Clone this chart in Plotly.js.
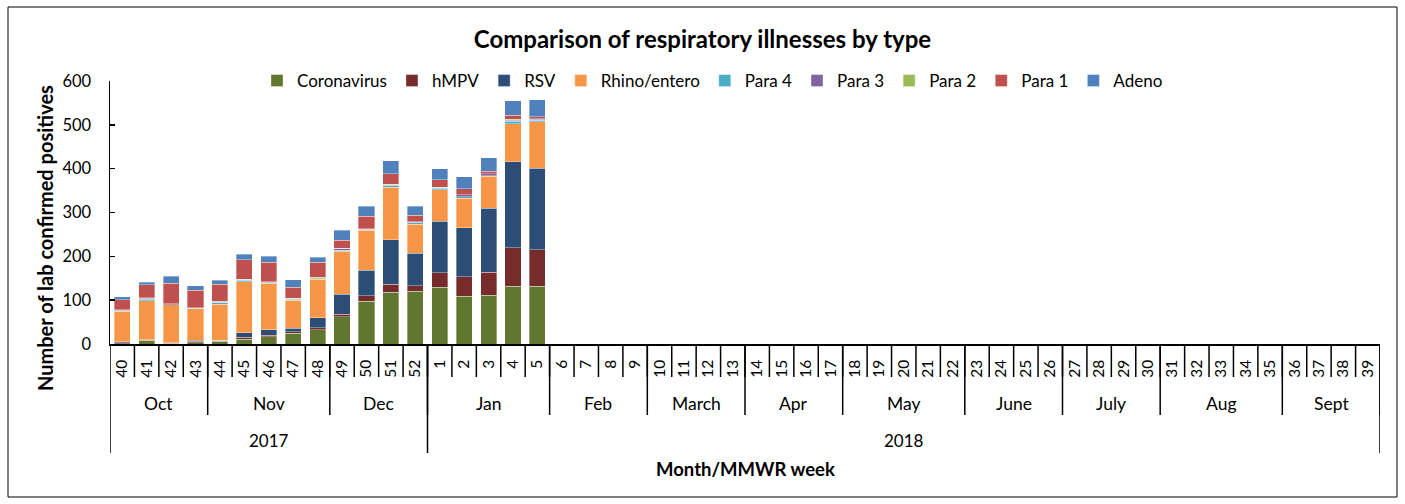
<!DOCTYPE html>
<html>
<head>
<meta charset="utf-8">
<script src="https://cdn.plot.ly/plotly-3.0.1.min.js"></script>
<style>html,body{margin:0;padding:0;background:#fff;}#chart{width:1405px;height:504px;}</style>
</head>
<body>
<div id="chart"></div>
<script>
const weeks = ['40','41','42','43','44','45','46','47','48','49','50','51','52',
  '1','2','3','4','5','6','7','8','9','10','11','12','13','14','15','16','17','18','19','20','21','22',
  '23','24','25','26','27','28','29','30','31','32','33','34','35','36','37','38','39'];
const dataWeeks = ['40','41','42','43','44','45','46','47','48','49','50','51','52','1','2','3','4','5'];
const coronavirus = [1,7,1,3,6,11,17,25,32,62,97,118,120,130,109,111,132,132];
const hMPV        = [2,1,1,3,3,4,3,3,5,6,13,18,13,33,44,53,88,83];
const rsv         = [2,2,1,3,0,11,12,8,23,45,58,102,74,117,112,146,196,186];
const rhino       = [70,89,86,71,82,116,107,64,88,99,91,120,66,72,68,73,87,106];
const para4       = [2,3,1,2,3,4,2,2,1,2,2,4,4,3,3,1,5,4];
const para3       = [1,2,2,1,1,1,1,1,0,4,1,1,1,2,4,4,3,2];
const para2       = [0,1,0,0,3,1,0,1,3,1,1,2,1,1,0,0,2,1];
const para1       = [23,30,47,40,38,44,45,25,35,18,28,23,15,17,14,6,9,4];
const adeno       = [7,6,16,10,10,13,13,18,11,23,23,30,20,25,28,31,33,39];

const monthNames = ['Oct','Nov','Dec','Jan','Feb','March','Apr','May','June','July','Aug','Sept'];
const monthSpans = [4,5,4,5,4,4,4,5,4,4,5,4];
const yearNames = ['2017','2018'];
const yearSpans = [13,39];

const seriesNames = ['Coronavirus','hMPV','RSV','Rhino/entero','Para 4','Para 3','Para 2','Para 1','Adeno'];
const seriesVals = [coronavirus,hMPV,rsv,rhino,para4,para3,para2,para1,adeno];
const colors = ['#61772F','#772B2B','#2C4D76','#F79646','#4BACC6','#8064A2','#9BBB59','#C0504D','#4F81BD'];

const FONT = 'Lato, "Open Sans", sans-serif';

const traces = seriesNames.map((n,i)=>({
  type:'bar', name:n, x:dataWeeks, y:seriesVals[i],
  marker:{color:colors[i], line:{color:'rgba(255,255,255,0.5)', width:0.7}},
  hoverinfo:'name+y'
}));

const plotH = 263;
const py = p => (344 - p)/plotH;   // pixel y -> paper y
const px = p => (p - 110)/1270;    // pixel x -> paper x
const LINE = {color:'#000', width:1.5};

const shapes = [];
const annotations = [];
// week dividers
weeks.forEach((w,i)=>{
  if (i>0) shapes.push({type:'line', xref:'x', yref:'paper', x0:i-0.5, x1:i-0.5, y0:0, y1:py(377), line:LINE});
});
let pos = -0.5;
monthNames.forEach((m,i)=>{
  const start = pos, end = pos + monthSpans[i];
  annotations.push({xref:'x', yref:'paper', x:(start+end)/2, y:py(403), text:m, showarrow:false,
    font:{family:FONT, size:17.5, color:'#000'}, yanchor:'middle'});
  shapes.push({type:'line', xref:'x', yref:'paper', x0:end, x1:end, y0:0, y1:py(415), line:LINE});
  pos = end;
});
pos = -0.5;
shapes.push({type:'line', xref:'x', yref:'paper', x0:-0.5, x1:-0.5, y0:0, y1:py(453), line:LINE});
yearNames.forEach((y,i)=>{
  const start = pos, end = pos + yearSpans[i];
  annotations.push({xref:'x', yref:'paper', x:(start+end)/2, y:py(440), text:y, showarrow:false,
    font:{family:FONT, size:17, color:'#000'}, yanchor:'middle'});
  shapes.push({type:'line', xref:'x', yref:'paper', x0:end, x1:end, y0:0, y1:py(453), line:LINE});
  pos = end;
});
annotations.push({xref:'paper', yref:'paper', x:px(745), y:py(469), text:'<b>Month/MMWR week</b>', showarrow:false,
  font:{family:FONT, size:18.5, color:'#000'}, yanchor:'middle'});
annotations.push({xref:'paper', yref:'paper', x:px(45), y:py(238), text:'<b>Number of lab confirmed positives</b>', showarrow:false,
  textangle:-90, font:{family:FONT, size:20, color:'#000'}, xanchor:'center', yanchor:'middle'});
// outer border
shapes.push({type:'rect', xref:'paper', yref:'paper', x0:px(8), x1:px(1397), y0:py(497), y1:py(7), line:{color:'#000', width:1}, layer:'below'});

const layout = {
  width:1405, height:504,
  margin:{l:110, r:25, t:81, b:160},
  paper_bgcolor:'#fff', plot_bgcolor:'#fff',
  barmode:'stack', bargap:0.34,
  title:{text:'<b>Comparison of respiratory illnesses by type</b>', x:0.5, xref:'container', y:1-40/504, yref:'container', yanchor:'middle',
    font:{family:FONT, size:24, color:'#000'}},
  showlegend:true,
  legend:{orientation:'h', x:px(257), y:py(63), xanchor:'left', yanchor:'top', font:{family:FONT, size:17, color:'#000'},
    itemwidth:30, traceorder:'normal', bgcolor:'rgba(0,0,0,0)', tracegroupgap:0},
  xaxis:{type:'category', categoryorder:'array', categoryarray:weeks, tickvals:weeks, ticktext:weeks,
    range:[-0.5, 51.5], tickangle:-90, tickfont:{family:FONT, size:15.5, color:'#000'},
    ticks:'', ticklabelstandoff:8,
    showline:true, linecolor:'#000', linewidth:1.5, showgrid:false, zeroline:false, fixedrange:true},
  yaxis:{range:[0,600], dtick:100, tick0:0, ticks:'inside', ticklen:5, tickwidth:1.5, tickcolor:'#000',
    showline:true, linecolor:'#000', linewidth:1.5, showgrid:false, zeroline:false,
    tickfont:{family:FONT, size:16.5, color:'#000'}, ticklabelstandoff:14},
  shapes:shapes, annotations:annotations
};
Plotly.newPlot('chart', traces, layout, {displayModeBar:false, staticPlot:true});
</script>
</body>
</html>
